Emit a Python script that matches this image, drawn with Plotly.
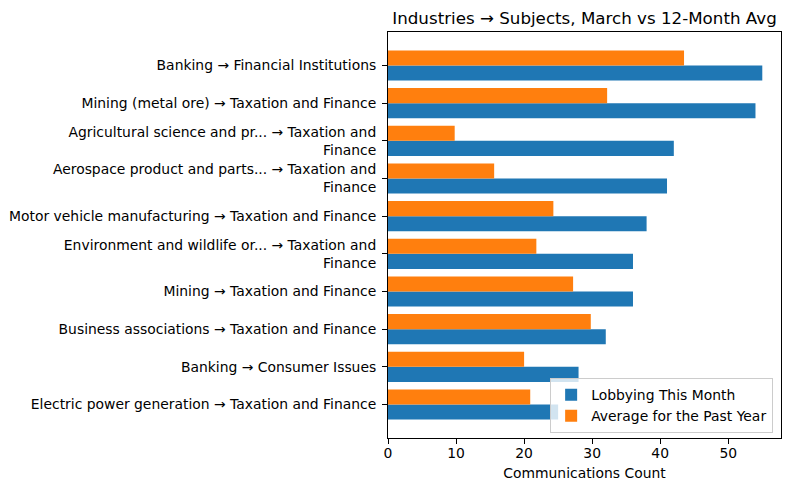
import plotly.graph_objects as go

categories = [
    "Banking → Financial Institutions",
    "Mining (metal ore) → Taxation and Finance",
    "Agricultural science and pr... → Taxation and<br>Finance",
    "Aerospace product and parts... → Taxation and<br>Finance",
    "Motor vehicle manufacturing → Taxation and Finance",
    "Environment and wildlife or... → Taxation and<br>Finance",
    "Mining → Taxation and Finance",
    "Business associations → Taxation and Finance",
    "Banking → Consumer Issues",
    "Electric power generation → Taxation and Finance",
]
this_month = [55, 54, 42, 41, 38, 36, 36, 32, 28, 25]
past_year_avg = [43.5, 32.2, 9.8, 15.6, 24.3, 21.8, 27.2, 29.8, 20.0, 20.9]

x_ticks = [0, 10, 20, 30, 40, 50]

font = "DejaVu Sans"
W, H = 774, 475
L, R, T, B = 380, 1, 24, 45

fig = go.Figure()
fig.add_trace(go.Bar(
    y=categories, x=this_month, orientation="h",
    name="Lobbying This Month", marker=dict(color="#1f77b4", line=dict(width=0)),
))
fig.add_trace(go.Bar(
    y=categories, x=past_year_avg, orientation="h",
    name="Average for the Past Year", marker=dict(color="#ff7f0e", line=dict(width=0)),
))

fig.update_layout(
    width=W, height=H,
    margin=dict(l=L, r=R, t=T, b=B, autoexpand=False),
    paper_bgcolor="white", plot_bgcolor="white",
    font=dict(family=font, size=13.9, color="black"),
    barmode="group", bargap=0.2, bargroupgap=0,
    title=dict(text="Industries → Subjects, March vs 12-Month Avg",
               x=(L + (W - R)) / 2 / W, xanchor="center",
               y=1 - 10.5 / H, yanchor="middle",
               font=dict(size=16.7, family=font, color="black")),
    showlegend=True,
    legend=dict(x=0.98, y=0.012, xanchor="right", yanchor="bottom",
                bgcolor="rgba(255,255,255,0.8)", bordercolor="#cccccc", borderwidth=1,
                font=dict(size=13.9, family=font), traceorder="normal"),
    xaxis=dict(range=[0, 57.75], tickvals=x_ticks, ticks="outside", ticklen=5,
               tickcolor="black", showline=True, linecolor="black", linewidth=1,
               mirror=True, showgrid=False, zeroline=False,
               ticklabelstandoff=-3,
               title=dict(text="Communications Count", font=dict(size=13.9), standoff=8),
               tickfont=dict(size=13.9)),
    yaxis=dict(type="category", categoryorder="array", categoryarray=categories[::-1],
               range=[-0.89, 9.89], ticks="outside", ticklen=5, tickcolor="black",
               showline=True, linecolor="black", linewidth=1, mirror=True,
               showgrid=False, zeroline=False, tickfont=dict(size=13.9),
               ticklabelstandoff=3, automargin=False),
)

fig.write_html("out.html")
